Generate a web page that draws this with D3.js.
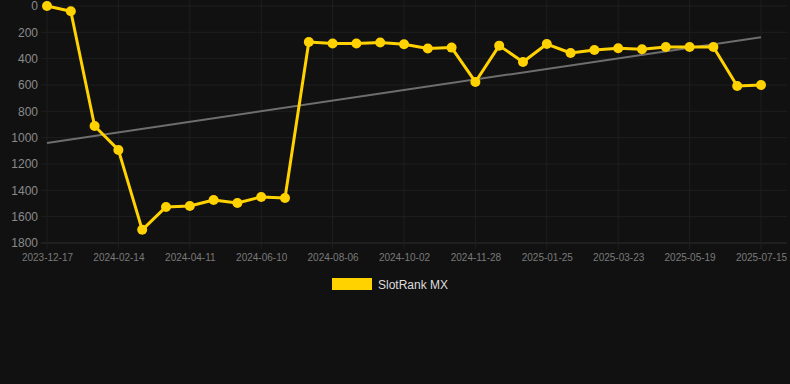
<!DOCTYPE html>
<html>
<head>
<meta charset="utf-8">
<script src="https://cdn.jsdelivr.net/npm/d3@7"></script>
<style>
  html, body { margin: 0; padding: 0; background: #111111; }
  svg { display: block; font-family: "Liberation Sans", Arial, sans-serif; }
</style>
</head>
<body>
<div id="chart"></div>
<script>
// chart data
const dates = [
  "2023-12-17", "2024-01-05", "2024-01-25", "2024-02-14", "2024-03-03", "2024-03-22",
  "2024-04-11", "2024-05-01", "2024-05-21", "2024-06-10", "2024-06-29", "2024-07-18",
  "2024-08-06", "2024-08-25", "2024-09-13", "2024-10-02", "2024-10-21", "2024-11-09",
  "2024-11-28", "2024-12-17", "2025-01-05", "2025-01-25", "2025-02-13", "2025-03-04",
  "2025-03-23", "2025-04-11", "2025-04-30", "2025-05-19", "2025-06-07", "2025-06-26",
  "2025-07-15"
];
const ranks = [
  0, 40, 911, 1093, 1700, 1526, 1519, 1473, 1496, 1450, 1458,
  273, 285, 285, 277, 291, 323, 316, 577, 301, 425,
  289, 357, 334, 321, 329, 311, 311, 311, 607, 600
];
const xTickLabels = dates.filter((d, i) => i % 3 === 0);
const yTicks = [0, 200, 400, 600, 800, 1000, 1200, 1400, 1600, 1800];
const seriesName = "SlotRank MX";

const chart = {width: 790, height: 384};
chart.left = 47;
chart.right = 761;
chart.top = 6;
chart.bottom = 243;

chart.svg = d3.select("#chart")
    .append("svg")
    .attr("width", chart.width)
    .attr("height", chart.height);

const x = d3.scalePoint().domain(dates).range([chart.left, chart.right]);
const y = d3.scaleLinear().domain([0, 1800]).range([chart.top, chart.bottom]);

// grid lines
chart.svg.append("g")
    .selectAll("line")
    .data(yTicks)
    .join("line")
    .attr("x1", chart.left - 6).attr("x2", chart.right + 26)
    .attr("y1", d => y(d)).attr("y2", d => y(d))
    .attr("stroke", d => d === 1800 ? "#2e2e2e" : "#1f1f1f")
    .attr("stroke-width", 1);

chart.svg.append("g")
    .selectAll("line")
    .data(xTickLabels)
    .join("line")
    .attr("x1", d => x(d)).attr("x2", d => x(d))
    .attr("y1", 0).attr("y2", chart.bottom + 6)
    .attr("stroke", "#1f1f1f")
    .attr("stroke-width", 1);

// y axis labels
const yAxis = chart.svg.append("g")
    .attr("transform", `translate(${chart.left - 9}, 0)`)
    .call(d3.axisLeft(y).tickValues(yTicks).tickFormat(d3.format("d")).tickSize(0).tickPadding(0));
yAxis.select(".domain").remove();
yAxis.selectAll("text")
    .attr("fill", "#8a8a8a")
    .attr("font-size", 12)
    .attr("font-family", "Liberation Sans, Arial, sans-serif");

// x axis labels
const xAxis = chart.svg.append("g")
    .attr("transform", `translate(0, ${chart.bottom})`)
    .call(d3.axisBottom(x).tickValues(xTickLabels).tickSize(0).tickPadding(11));
xAxis.select(".domain").remove();
xAxis.selectAll("text")
    .attr("fill", "#7a7a7a")
    .attr("font-size", 10)
    .attr("font-family", "Liberation Sans, Arial, sans-serif");

// trend line (least squares over the series)
const idx = ranks.map((d, i) => i);
const mx = d3.mean(idx), my = d3.mean(ranks);
const slope = d3.sum(idx, i => (i - mx) * (ranks[i] - my)) / d3.sum(idx, i => (i - mx) * (i - mx));
const icpt = my - slope * mx;
const trend = [0, dates.length - 1].map(i => ({date: dates[i], v: icpt + slope * i}));

chart.svg.append("path")
    .datum(trend)
    .attr("fill", "none")
    .attr("stroke", "#6e6e6e")
    .attr("stroke-width", 2)
    .attr("d", d3.line().x(d => x(d.date)).y(d => y(d.v)));

// series line
const points = dates.map((d, i) => ({date: d, v: ranks[i]}));
chart.svg.append("path")
    .datum(points)
    .attr("fill", "none")
    .attr("stroke", "#ffd200")
    .attr("stroke-width", 3)
    .attr("stroke-linejoin", "round")
    .attr("d", d3.line().x(d => x(d.date)).y(d => y(d.v)));

chart.svg.append("g")
    .selectAll("circle")
    .data(points)
    .join("circle")
    .attr("cx", d => x(d.date))
    .attr("cy", d => y(d.v))
    .attr("r", 5)
    .attr("fill", "#ffd200");

// legend
const legend = chart.svg.append("g").attr("transform", "translate(332, 278)");
legend.append("rect")
    .attr("width", 40).attr("height", 12)
    .attr("fill", "#ffd200");
legend.append("text")
    .attr("x", 46).attr("y", 10.5)
    .attr("fill", "#dddddd")
    .attr("font-size", 12)
    .text(seriesName);
</script>
</body>
</html>
